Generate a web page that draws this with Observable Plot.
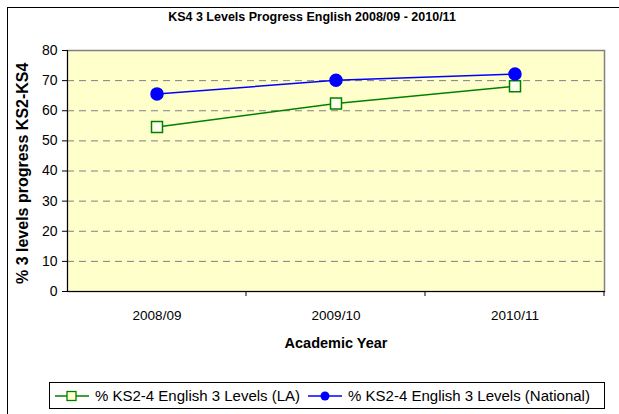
<!DOCTYPE html>
<html><head><meta charset="utf-8">
<script src="https://cdn.jsdelivr.net/npm/d3@7"></script>
<script src="https://cdn.jsdelivr.net/npm/@observablehq/plot@0.6"></script>
<style>
body{margin:0;background:#fff;font-family:"Liberation Sans",Arial,sans-serif}
#wrap{position:relative;width:619px;height:414px;overflow:hidden}
#outer{position:absolute;left:7px;top:7px;width:640px;height:440px;border:1px solid #000;box-sizing:border-box}
#chart{position:absolute;left:0;top:0}
#title{position:absolute;left:0;width:624px;top:10px;text-align:center;font-weight:bold;font-size:12.5px;color:#000}
#yclip{position:absolute;left:10px;top:53px;width:24px;height:240px;overflow:hidden}
#ytitle{position:absolute;left:0;top:0;white-space:nowrap;font-weight:bold;font-size:16px;transform-origin:0 0;transform:translate(4px,231px) rotate(-90deg)}
#legend{position:absolute;left:49px;top:382px;width:556px;height:27px;border:1px solid #000;box-sizing:border-box;font-size:15px;display:flex;align-items:center;white-space:nowrap}
#legend svg{display:block}
.item{display:flex;align-items:center}
</style>
</head><body>
<div id="wrap">
  <div id="outer"></div>
  <div id="chart"></div>
  <div id="title"></div>
  <div id="yclip"><div id="ytitle"></div></div>
  <div id="legend"></div>
</div>
<script>
const titleText = "KS4 3 Levels Progress English 2008/09 - 2010/11";
const yTitle = "% 3 levels progress KS2-KS4";
const xTitle = "Academic Year";
const years = ["2008/09", "2009/10", "2010/11"];
const laValues = [54.6, 62.4, 68.1];
const nationalValues = [65.6, 70.1, 72.2];
const seriesNames = ["% KS2-4 English 3 Levels (LA)", "% KS2-4 English 3 Levels (National)"];
const yTicks = [0, 10, 20, 30, 40, 50, 60, 70, 80];
const gridTicks = [10, 20, 30, 40, 50, 60, 70];

const la = years.map((y, i) => ({year: y, value: laValues[i]}));
const nat = years.map((y, i) => ({year: y, value: nationalValues[i]}));

const green = "#008000", blue = "#0000FF";

document.getElementById("title").textContent = titleText;
document.getElementById("ytitle").textContent = yTitle;

// boundary tick marks between categories (Excel style)
function boundaryTicks(index, scales, values, dims) {
  const g = d3.create("svg:g");
  const x = scales.x;
  const y0 = dims.height - dims.marginBottom;
  const xs = years.map(d => x(d)).slice(1).concat([dims.width - dims.marginRight]);
  for (const px of xs) {
    g.append("line").attr("x1", px).attr("x2", px).attr("y1", y0).attr("y2", y0 + 5)
      .attr("stroke", "#000");
  }
  return g.node();
}

const chart = Plot.plot({
  width: 619,
  height: 414,
  marginLeft: 67,
  marginRight: 15,
  marginTop: 50,
  marginBottom: 123,
  style: {fontFamily: "'Liberation Sans', Arial, sans-serif", fontSize: "13px", background: "transparent", color: "#000"},
  x: {type: "band", domain: years, padding: 0, label: null},
  y: {domain: [0, 80], label: null},
  marks: [
    Plot.frame({fill: "#FFFFCC", stroke: "#808080", strokeWidth: 1.5}),
    Plot.gridY(gridTicks, {stroke: "#808080", strokeOpacity: 1, strokeDasharray: "7,5", strokeWidth: 1}),
    Plot.frame({anchor: "left", stroke: "#000"}),
    Plot.frame({anchor: "bottom", stroke: "#000"}),
    Plot.axisY({ticks: yTicks, tickSize: 5, tickPadding: 5, fontSize: 14, label: null}),
    Plot.axisX({tickSize: 0, tickPadding: 19, fontSize: 13.5, label: null}),
    Plot.axisX({tickSize: 0, ticks: [], label: xTitle, labelAnchor: "center", labelArrow: "none", labelOffset: 56, fontWeight: "bold", fontSize: 14.5}),
    boundaryTicks,
    Plot.line(la, {x: "year", y: "value", stroke: green, strokeWidth: 1.5}),
    Plot.line(nat, {x: "year", y: "value", stroke: blue, strokeWidth: 1.5}),
    Plot.dot(la, {x: "year", y: "value", symbol: "square", r: 6.2, stroke: green, strokeWidth: 1.5, fill: "#FFFFEE"}),
    Plot.dot(nat, {x: "year", y: "value", symbol: "circle", r: 6, fill: blue, stroke: blue})
  ]
});
document.getElementById("chart").appendChild(chart);

// legend
const legend = d3.select("#legend");
function addItem(name, color, sym, ml) {
  const it = legend.append("div").attr("class", "item").style("margin-left", ml + "px");
  const s = it.append("svg").attr("width", 34).attr("height", 14);
  s.append("line").attr("x1", 0).attr("x2", 34).attr("y1", 7).attr("y2", 7).attr("stroke", color).attr("stroke-width", 1.5);
  if (sym === "square") {
    s.append("rect").attr("x", 12).attr("y", 2.5).attr("width", 9).attr("height", 9).attr("fill", "#FFFFCC").attr("stroke", color).attr("stroke-width", 1.3);
  } else {
    s.append("circle").attr("cx", 17).attr("cy", 7).attr("r", 4.5).attr("fill", color);
  }
  it.append("span").style("margin-left", "6px").text(name);
}
addItem(seriesNames[0], green, "square", 5);
addItem(seriesNames[1], blue, "circle", 8);
</script>
</body></html>
